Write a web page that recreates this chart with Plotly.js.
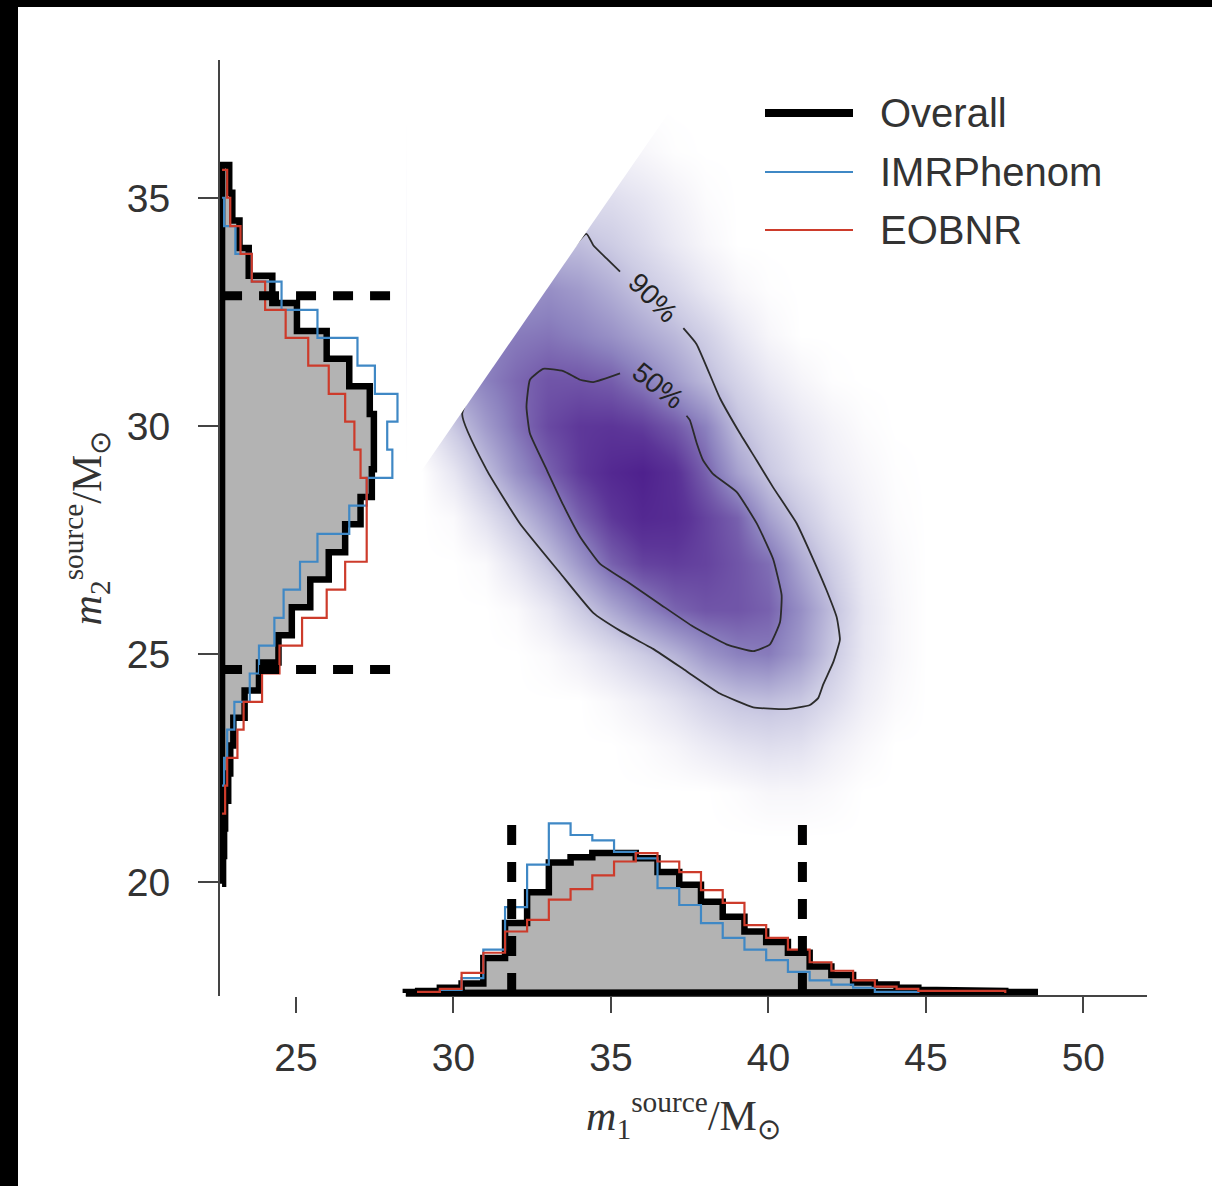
<!DOCTYPE html>
<html><head><meta charset="utf-8">
<script src="https://cdn.plot.ly/plotly-3.0.1.min.js"></script>
<style>
html,body{margin:0;padding:0;background:#fff;}
#chart{position:absolute;left:0;top:0;width:1194px;height:1179px;border-left:18px solid #000;border-top:7px solid #000;background:#fff;}
</style></head><body><div id="chart"></div>
<script>
// ---------- data ----------
// m1 (primary source mass) histogram: bin edges and densities
const m1Edges = [28.49, 28.88, 29.57, 30.26, 30.95, 31.64, 32.34, 33.03, 33.72, 34.41, 35.10, 35.79, 36.48, 37.17, 37.86, 38.55, 39.24, 39.93, 40.62, 41.31, 42.00, 42.69, 43.38, 44.07, 44.76, 45.45, 46.14, 46.83, 47.52, 48.21, 48.56];
const m1Overall = [0.001, 0.002, 0.005, 0.009, 0.033, 0.066, 0.095, 0.123, 0.128, 0.132, 0.132, 0.127, 0.114, 0.102, 0.086, 0.072, 0.058, 0.048, 0.038, 0.025, 0.017, 0.010, 0.008, 0.005, 0.003, 0.003, 0.003, 0.002, 0.001, 0.001];
const m1EdgesEOB = m1Edges.slice(1, 29);
const m1EOBNR = [0.001, 0.004, 0.019, 0.038, 0.058, 0.069, 0.088, 0.098, 0.111, 0.124, 0.132, 0.124, 0.114, 0.097, 0.085, 0.064, 0.052, 0.041, 0.029, 0.021, 0.012, 0.006, 0.004, 0.002, 0.002, 0.002, 0.002];
const m1EdgesIMR = m1Edges.slice(2, 25);
const m1IMR = [0.003, 0.014, 0.041, 0.081, 0.121, 0.160, 0.149, 0.144, 0.133, 0.127, 0.099, 0.083, 0.066, 0.052, 0.041, 0.031, 0.020, 0.012, 0.008, 0.005, 0.001, 0.001];

// m2 (secondary source mass) histogram
const m2EdgesOverall = [19.97, 20.58, 21.18, 21.79, 22.39, 23.00, 23.61, 24.21, 24.82, 25.42, 26.03, 26.64, 27.24, 27.85, 28.45, 29.06, 29.67, 30.27, 30.88, 31.48, 32.09, 32.70, 33.30, 33.91, 34.51, 35.12, 35.73];
const m2Overall = [0.001, 0.002, 0.003, 0.006, 0.008, 0.011, 0.022, 0.036, 0.055, 0.068, 0.086, 0.104, 0.120, 0.135, 0.146, 0.148, 0.148, 0.144, 0.124, 0.102, 0.073, 0.049, 0.026, 0.017, 0.010, 0.007];
const m2EdgesEOB = [21.51, 22.12, 22.73, 23.35, 23.96, 24.58, 25.19, 25.80, 26.42, 27.03, 27.64, 28.26, 28.87, 29.49, 30.10, 30.71, 31.33, 31.94, 32.55, 33.17, 33.78, 34.39, 35.01, 35.62];
const m2EOBNR = [0.003, 0.005, 0.015, 0.021, 0.039, 0.056, 0.078, 0.102, 0.120, 0.141, 0.141, 0.141, 0.135, 0.129, 0.120, 0.104, 0.084, 0.062, 0.042, 0.029, 0.018, 0.008, 0.005];
const m2EdgesIMR = m2EdgesEOB.slice(1, 23);
const m2IMR = [0.002, 0.005, 0.012, 0.027, 0.036, 0.051, 0.060, 0.076, 0.093, 0.124, 0.141, 0.166, 0.161, 0.171, 0.149, 0.132, 0.093, 0.058, 0.029, 0.013, 0.002];

// 90% credible intervals (dashed lines)
const m1Interval = [31.85, 41.08];
const m2Interval = [24.67, 32.86];

// 2D posterior density (relative level), grid read from the shading
const gridM1 = [29, 30, 31, 32, 33, 34, 35, 36, 37, 38, 39, 40, 41, 42, 43, 44, 45, 46];
const gridM2 = [21, 22, 23, 24, 25, 26, 27, 28, 29, 30, 31, 32, 33, 34, 35, 36, 37];
const density = [
 [0,0,0,0,0,0,0,0,0,0,0,0,0,0,0,0,0,0],
 [0,0,0,0,0,0,0,0,0,0,.02,.05,.05,.03,0,0,0,0],
 [0,0,0,0,0,0,0,.02,.06,.12,.17,.20,.18,.10,.04,0,0,0],
 [0,0,0,0,0,0,.04,.10,.18,.27,.34,.36,.32,.22,.10,.03,0,0],
 [0,0,0,0,.03,.10,.20,.30,.40,.52,.60,.62,.50,.32,.14,.05,0,0],
 [0,0,0,.03,.14,.30,.45,.58,.69,.74,.74,.70,.55,.36,.15,.05,0,0],
 [0,0,.03,.17,.34,.52,.70,.80,.82,.80,.74,.66,.45,.28,.12,.04,0,0],
 [0,.03,.18,.35,.52,.70,.84,.92,.90,.80,.70,.48,.32,.18,.08,.02,0,0],
 [0,.15,.36,.55,.70,.83,.92,.96,.88,.70,.48,.32,.20,.11,.05,.01,0,0],
 [.10,.32,.50,.65,.78,.84,.85,.82,.73,.60,.36,.24,.14,.07,.02,0,0,0],
 [.30,.50,.60,.68,.74,.74,.71,.62,.50,.38,.25,.14,.06,.01,0,0,0,0],
 [.45,.55,.58,.62,.64,.60,.54,.46,.38,.28,.15,.05,0,0,0,0,0,0],
 [.50,.50,.50,.52,.55,.50,.42,.33,.24,.14,.05,.01,0,0,0,0,0,0],
 [.36,.36,.36,.36,.36,.36,.30,.22,.13,.05,0,0,0,0,0,0,0,0],
 [.20,.20,.20,.20,.20,.20,.20,.15,.08,.02,0,0,0,0,0,0,0,0],
 [.08,.08,.08,.08,.08,.08,.08,.05,.01,0,0,0,0,0,0,0,0,0],
 [0,0,0,0,0,0,0,0,0,0,0,0,0,0,0,0,0,0]
];

// credible-region contours (open where the label sits)
const c90M1 = [37.30, 37.72, 38.46, 39.10, 39.63, 40.15, 40.90, 41.42, 41.85, 42.17, 42.27, 42.06, 41.74, 41.58, 41.32, 40.58, 39.52, 38.46, 37.40, 36.34, 35.29, 34.44, 33.38, 32.11, 31.05, 30.28, 34.22, 34.44, 34.86, 35.29];
const c90M2 = [32.15, 31.80, 30.62, 29.84, 29.25, 28.66, 27.87, 27.09, 26.40, 25.81, 25.32, 24.83, 24.34, 24.04, 23.89, 23.80, 23.84, 24.14, 24.63, 25.12, 25.52, 25.91, 26.79, 27.87, 29.05, 30.28, 34.22, 33.97, 33.68, 33.39];
const c50M1 = [35.29, 34.44, 34.02, 33.49, 32.85, 32.43, 32.32, 32.43, 32.96, 33.49, 34.02, 34.65, 35.50, 36.56, 37.61, 38.67, 39.52, 40.05, 40.37, 40.42, 40.15, 39.63, 38.99, 38.25, 37.93, 37.72, 37.51, 37.40];
const c50M2 = [31.16, 30.97, 31.02, 31.21, 31.26, 31.02, 30.43, 29.84, 29.05, 28.27, 27.58, 26.99, 26.60, 26.10, 25.61, 25.22, 25.07, 25.22, 25.71, 26.30, 27.09, 27.87, 28.56, 28.95, 29.25, 29.64, 30.13, 30.23];
const contourLabels = ['90%', '50%'];

const seriesNames = ['Overall', 'IMRPhenom', 'EOBNR'];
const xTicks = [25, 30, 35, 40, 45, 50];
const yTicks = [20, 25, 30, 35];

// ---------- styling ----------
const C_OVERALL = '#000000', C_IMR = '#3f88c5', C_EOB = '#cd3b2b', C_FILL = '#b3b3b3';
const TXT = '#333333';
const SANS = 'Liberation Sans, Arial, sans-serif';
const SERIF = 'Liberation Serif, Times New Roman, serif';
const X_RANGE = [22.59, 52.02], Y_RANGE = [17.51, 38.03];

// step outline for a vertical histogram (bars rising along y2)
function stepUp(edges, vals, close) {
  const x = [edges[0]], y = [0];
  for (let i = 0; i < vals.length; i++) { x.push(edges[i], edges[i+1]); y.push(vals[i], vals[i]); }
  x.push(edges[edges.length-1]); y.push(0);
  if (close) { x.push(edges[0]); y.push(0); }
  return {x, y};
}
// step outline for a horizontal histogram (bars growing along x2)
function stepRight(edges, vals, close) {
  const s = stepUp(edges, vals, close);
  return {x: s.y, y: s.x};
}

const purples = [
  [0.00, '#ffffff'], [0.05, '#f7f6fa'], [0.15, '#e7e6f2'], [0.30, '#cdcce4'],
  [0.45, '#aca8d2'], [0.60, '#8c82bf'], [0.72, '#745bab'], [0.85, '#5c3598'], [1.00, '#4a1a8a']
];

const traces = [];
traces.push({type:'heatmap', x:gridM1, y:gridM2, z:density, zsmooth:'best', colorscale:purples,
  zmin:0, zmax:1, showscale:false, hoverinfo:'skip', xaxis:'x', yaxis:'y'});
traces.push({type:'scatter', mode:'lines', x:c90M1, y:c90M2, line:{color:'#2b2b2b', width:1.8, shape:'spline', smoothing:0.4},
  hoverinfo:'skip', showlegend:false, xaxis:'x', yaxis:'y'});
traces.push({type:'scatter', mode:'lines', x:c50M1, y:c50M2, line:{color:'#2b2b2b', width:1.8, shape:'spline', smoothing:0.4},
  hoverinfo:'skip', showlegend:false, xaxis:'x', yaxis:'y'});

// m1 marginal (bottom)
let s = stepUp(m1Edges, m1Overall, true);
traces.push({type:'scatter', mode:'lines', name:seriesNames[0], x:s.x, y:s.y, fill:'toself', fillcolor:C_FILL,
  line:{color:C_OVERALL, width:6.5}, hoverinfo:'skip', showlegend:false, xaxis:'x', yaxis:'y2'});
s = stepUp(m1EdgesIMR, m1IMR, false);
traces.push({type:'scatter', mode:'lines', name:seriesNames[1], x:s.x, y:s.y, line:{color:C_IMR, width:2.2},
  hoverinfo:'skip', showlegend:false, xaxis:'x', yaxis:'y2'});
s = stepUp(m1EdgesEOB, m1EOBNR, false);
traces.push({type:'scatter', mode:'lines', name:seriesNames[2], x:s.x, y:s.y, line:{color:C_EOB, width:2.2},
  hoverinfo:'skip', showlegend:false, xaxis:'x', yaxis:'y2'});
const DASH_H1 = 0.160;
traces.push({type:'scatter', mode:'lines', x:[m1Interval[0], m1Interval[0], null, m1Interval[1], m1Interval[1]],
  y:[0, DASH_H1, null, 0, DASH_H1], line:{color:'#000', width:9, dash:'20px,17px'},
  hoverinfo:'skip', showlegend:false, xaxis:'x', yaxis:'y2'});

// m2 marginal (left)
s = stepRight(m2EdgesOverall, m2Overall, true);
traces.push({type:'scatter', mode:'lines', name:seriesNames[0], x:s.x, y:s.y, fill:'toself', fillcolor:C_FILL,
  line:{color:C_OVERALL, width:6.5}, hoverinfo:'skip', showlegend:false, xaxis:'x2', yaxis:'y'});
s = stepRight(m2EdgesIMR, m2IMR, false);
traces.push({type:'scatter', mode:'lines', name:seriesNames[1], x:s.x, y:s.y, line:{color:C_IMR, width:2.2},
  hoverinfo:'skip', showlegend:false, xaxis:'x2', yaxis:'y'});
s = stepRight(m2EdgesEOB, m2EOBNR, false);
traces.push({type:'scatter', mode:'lines', name:seriesNames[2], x:s.x, y:s.y, line:{color:C_EOB, width:2.2},
  hoverinfo:'skip', showlegend:false, xaxis:'x2', yaxis:'y'});
const DASH_W2 = 0.164;
traces.push({type:'scatter', mode:'lines', x:[0, DASH_W2, null, 0, DASH_W2],
  y:[m2Interval[0], m2Interval[0], null, m2Interval[1], m2Interval[1]], line:{color:'#000', width:9, dash:'20px,17px'},
  hoverinfo:'skip', showlegend:false, xaxis:'x2', yaxis:'y'});

// plot-area geometry (pixels inside the div)
const PL = 202, PT = 53, PW = 927, PH = 936;
const px2x = (px) => (px - 18 - PL) / PW;      // absolute page px -> paper x
const py2y = (py) => 1 - (py - 7 - PT) / PH;   // absolute page px -> paper y

const legendRows = [
  {name: seriesNames[0], color: C_OVERALL, width: 8, py: 113},
  {name: seriesNames[1], color: C_IMR, width: 2.2, py: 172},
  {name: seriesNames[2], color: C_EOB, width: 2.2, py: 230}
];
const shapes = [
  // bottom spine (only under the m1 marginal)
  {type:'line', xref:'x', yref:'paper', x0:m1Edges[0], x1:X_RANGE[1], y0:0, y1:0, line:{color:'#444', width:2}, layer:'below'},
  // physical bound m1 >= m2: clip the density above the diagonal
  {type:'path', xref:'x', yref:'y', path:'M28.5,28.54 L37.99,38.03 L28.5,38.03 Z', fillcolor:'#ffffff', line:{width:0}, layer:'above'}
];
const annotations = [];
legendRows.forEach(r => {
  shapes.push({type:'line', xref:'paper', yref:'paper', x0:px2x(765), x1:px2x(853), y0:py2y(r.py), y1:py2y(r.py),
    line:{color:r.color, width:r.width}, layer:'above'});
  annotations.push({xref:'paper', yref:'paper', x:px2x(878), y:py2y(r.py), xanchor:'left', yanchor:'middle',
    text:r.name, showarrow:false, font:{family:SANS, size:40, color:TXT}});
});
annotations.push({xref:'x', yref:'y', x:36.33, y:32.82, text:contourLabels[0], showarrow:false, textangle:45,
  font:{family:SANS, size:28, color:'#222'}});
annotations.push({xref:'x', yref:'y', x:36.49, y:30.89, text:contourLabels[1], showarrow:false, textangle:38,
  font:{family:SANS, size:28, color:'#222'}});

const layout = {
  width: 1194, height: 1179,
  margin: {l: PL, r: 65, t: PT, b: 190, pad: 0},
  paper_bgcolor: '#ffffff', plot_bgcolor: 'rgba(0,0,0,0)',
  font: {family: SANS, color: TXT},
  showlegend: false,
  xaxis: {range: X_RANGE, tickvals: xTicks, ticks: 'outside', ticklen: 16, tickwidth: 2, tickcolor: '#444',
    showline: false, showgrid: false, zeroline: false, ticklabelstandoff: 11,
    tickfont: {family: SANS, size: 39, color: TXT},
    title: {text: '<i>m</i><sub>1</sub><sup>source</sup>/M<sub>⊙</sub>', font: {family: SERIF, size: 42, color: TXT}, standoff: 22}},
  yaxis: {range: Y_RANGE, tickvals: yTicks, ticks: 'outside', ticklen: 20, tickwidth: 2, tickcolor: '#444',
    showline: true, linecolor: '#444', linewidth: 2, showgrid: false, zeroline: false, ticklabelstandoff: 20,
    tickfont: {family: SANS, size: 39, color: TXT},
    title: {text: '<i>m</i><sub>2</sub><sup>source</sup>/M<sub>⊙</sub>', font: {family: SERIF, size: 42, color: TXT}, standoff: 12}},
  xaxis2: {overlaying: 'x', anchor: 'y', range: [-0.002, 0.9016], visible: false, showgrid: false, zeroline: false},
  yaxis2: {overlaying: 'y', anchor: 'x', range: [-0.0028, 0.8797], visible: false, showgrid: false, zeroline: false},
  shapes: shapes,
  annotations: annotations
};

Plotly.newPlot('chart', traces, layout, {displayModeBar: false, staticPlot: true});
</script></body></html>
